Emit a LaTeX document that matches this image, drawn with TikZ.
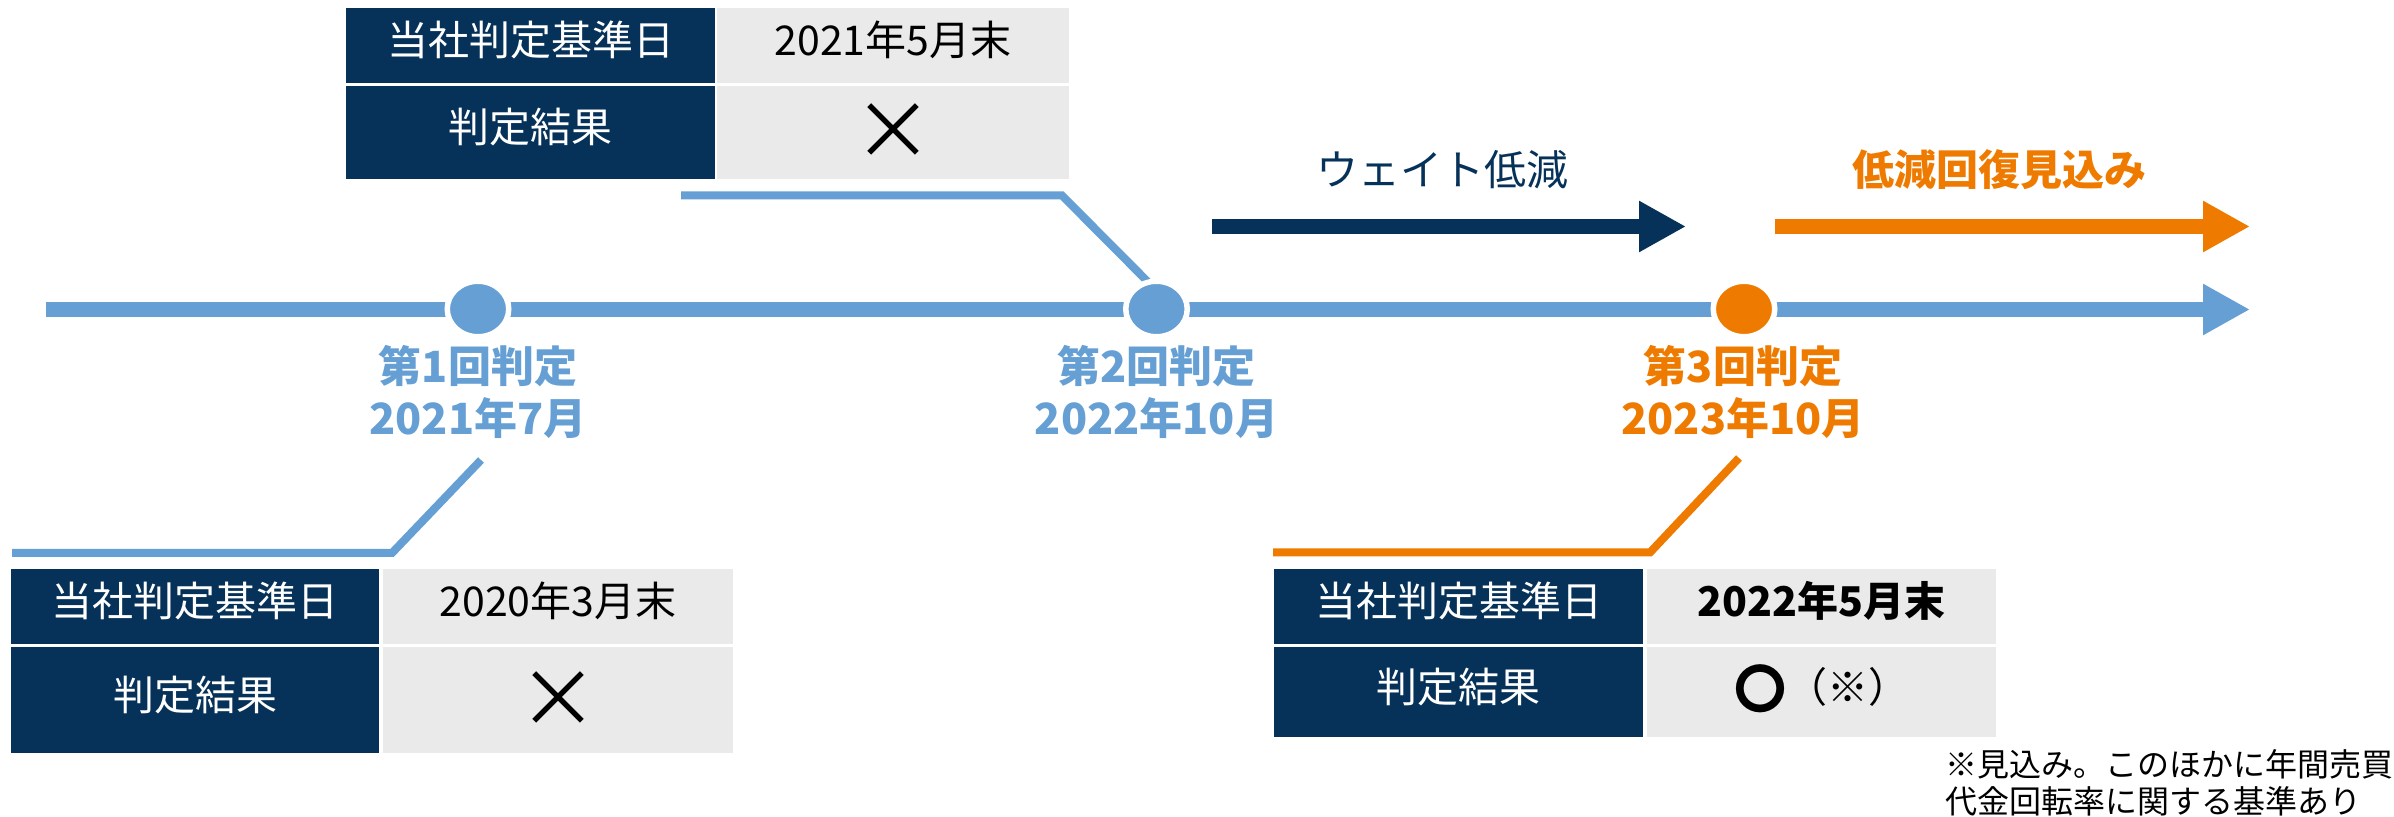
\documentclass[tikz,border=0pt]{standalone}
\usepackage{fontspec}
\setmainfont{Noto Sans CJK JP}
\usetikzlibrary{shapes.geometric,arrows.meta}
\definecolor{navy}{RGB}{6,50,89}
\definecolor{lblue}{RGB}{101,159,211}
\definecolor{orng}{RGB}{238,123,0}
\definecolor{cellgray}{RGB}{234,234,234}
\begin{document}
\begin{tikzpicture}[x=0.5pt,y=-0.5pt,
  cellfont/.style={font=\fontsize{20.5}{24}\selectfont},
  hcell/.style={rectangle, fill=navy, text=white, inner sep=0pt, cellfont, text height=11.5pt, text depth=1pt},
  vcell/.style={rectangle, fill=cellgray, text=black, inner sep=0pt, cellfont, text height=11.5pt, text depth=1pt},
  bigx/.style={font=\fontsize{40}{40}\selectfont, text height=27pt, text depth=0pt},
  tline/.style={line width=7.5pt, -{Triangle[length=23.5pt,width=24pt]}},
  brk/.style={line width=4pt},
  dot/.style={ellipse, draw=white, line width=2.75pt, minimum width=30.75pt, minimum height=27.75pt, inner sep=0pt},
  when/.style={font=\bfseries\fontsize{21.5}{26}\selectfont, align=center, inner sep=0pt},
  head/.style={font=\fontsize{21}{24}\selectfont, inner sep=0pt},
]
\useasboundingbox (0,0) rectangle (2394,817);

% timeline and period arrows
\coordinate (tlA) at (46,309.5);
\coordinate (tlB) at (2250,309.5);
\draw[tline, lblue] (tlA) -- (tlB);
\coordinate (nvA) at (1212,226.5);
\coordinate (nvB) at (1686,226.5);
\draw[tline, navy] (nvA) -- (nvB);
\coordinate (orA) at (1775,226.5);
\coordinate (orB) at (2250,226.5);
\draw[tline, orng] (orA) -- (orB);
\node[head, text=navy] (wlabel) at (1442,170) {ウェイト低減};
\node[head, text=orng, font=\bfseries\fontsize{21}{24}\selectfont] (rlabel) at (1999,170) {低減回復見込み};

% brackets
\coordinate (b1a) at (681,195.5);
\coordinate (b1b) at (1062,195.5);
\coordinate (b1c) at (1154,288);
\draw[brk, lblue] (b1a) -- (b1b) -- (b1c);
\coordinate (b2a) at (12,553);
\coordinate (b2b) at (392,553);
\coordinate (b2c) at (481,460);
\draw[brk, lblue] (b2a) -- (b2b) -- (b2c);
\coordinate (b3a) at (1273,552.5);
\coordinate (b3b) at (1650,552.5);
\coordinate (b3c) at (1739,458);
\draw[brk, orng] (b3a) -- (b3b) -- (b3c);

% milestones
\node[dot, fill=lblue] (m1) at (478,309) {};
\node[dot, fill=lblue] (m2) at (1156.5,309) {};
\node[dot, fill=orng] (m3) at (1744,309) {};
\node[when, text=lblue] (l1) at (478,392) {第1回判定\\2021年7月};
\node[when, text=lblue] (l2) at (1156.5,392) {第2回判定\\2022年10月};
\node[when, text=orng] (l3) at (1743,392) {第3回判定\\2023年10月};

% top table
\node[hcell, minimum width=184.5pt, minimum height=37.5pt] (t1l) at (530.5,45.5) {当社判定基準日};
\node[vcell, minimum width=176pt, minimum height=37.5pt] (t1r) at (893,45.5) {2021年5月末};
\node[hcell, minimum width=184.5pt, minimum height=46.5pt] (t2l) at (530.5,132.5) {判定結果};
\node[vcell, minimum width=176pt, minimum height=46.5pt, bigx] (t2r) at (893,132.5) {×};

% lower-left table
\node[hcell, minimum width=184pt, minimum height=37.5pt] (u1l) at (195,606.5) {当社判定基準日};
\node[vcell, minimum width=175pt, minimum height=37.5pt] (u1r) at (558,606.5) {2020年3月末};
\node[hcell, minimum width=184pt, minimum height=53pt] (u2l) at (195,700) {判定結果};
\node[vcell, minimum width=175pt, minimum height=53pt, bigx] (u2r) at (558,700) {×};

% lower-right table
\node[hcell, minimum width=184.5pt, minimum height=37.5pt] (r1l) at (1458.5,606.5) {当社判定基準日};
\node[vcell, minimum width=174.5pt, minimum height=37.5pt, font=\bfseries\fontsize{20.5}{24}\selectfont] (r1r) at (1821.5,606.5) {2022年5月末};
\node[hcell, minimum width=184.5pt, minimum height=45pt] (r2l) at (1458.5,692) {判定結果};
\node[vcell, minimum width=174.5pt, minimum height=45pt] (r2r) at (1821.5,692) {\raisebox{-3pt}{\bfseries\fontsize{26}{26}\selectfont 〇}（※）};

% footnote
\node[anchor=west, align=left, inner sep=0pt, font=\fontsize{16}{18.5}\selectfont] (note) at (1945,783) {※見込み。このほかに年間売買\\代金回転率に関する基準あり};
\end{tikzpicture}
\end{document}
